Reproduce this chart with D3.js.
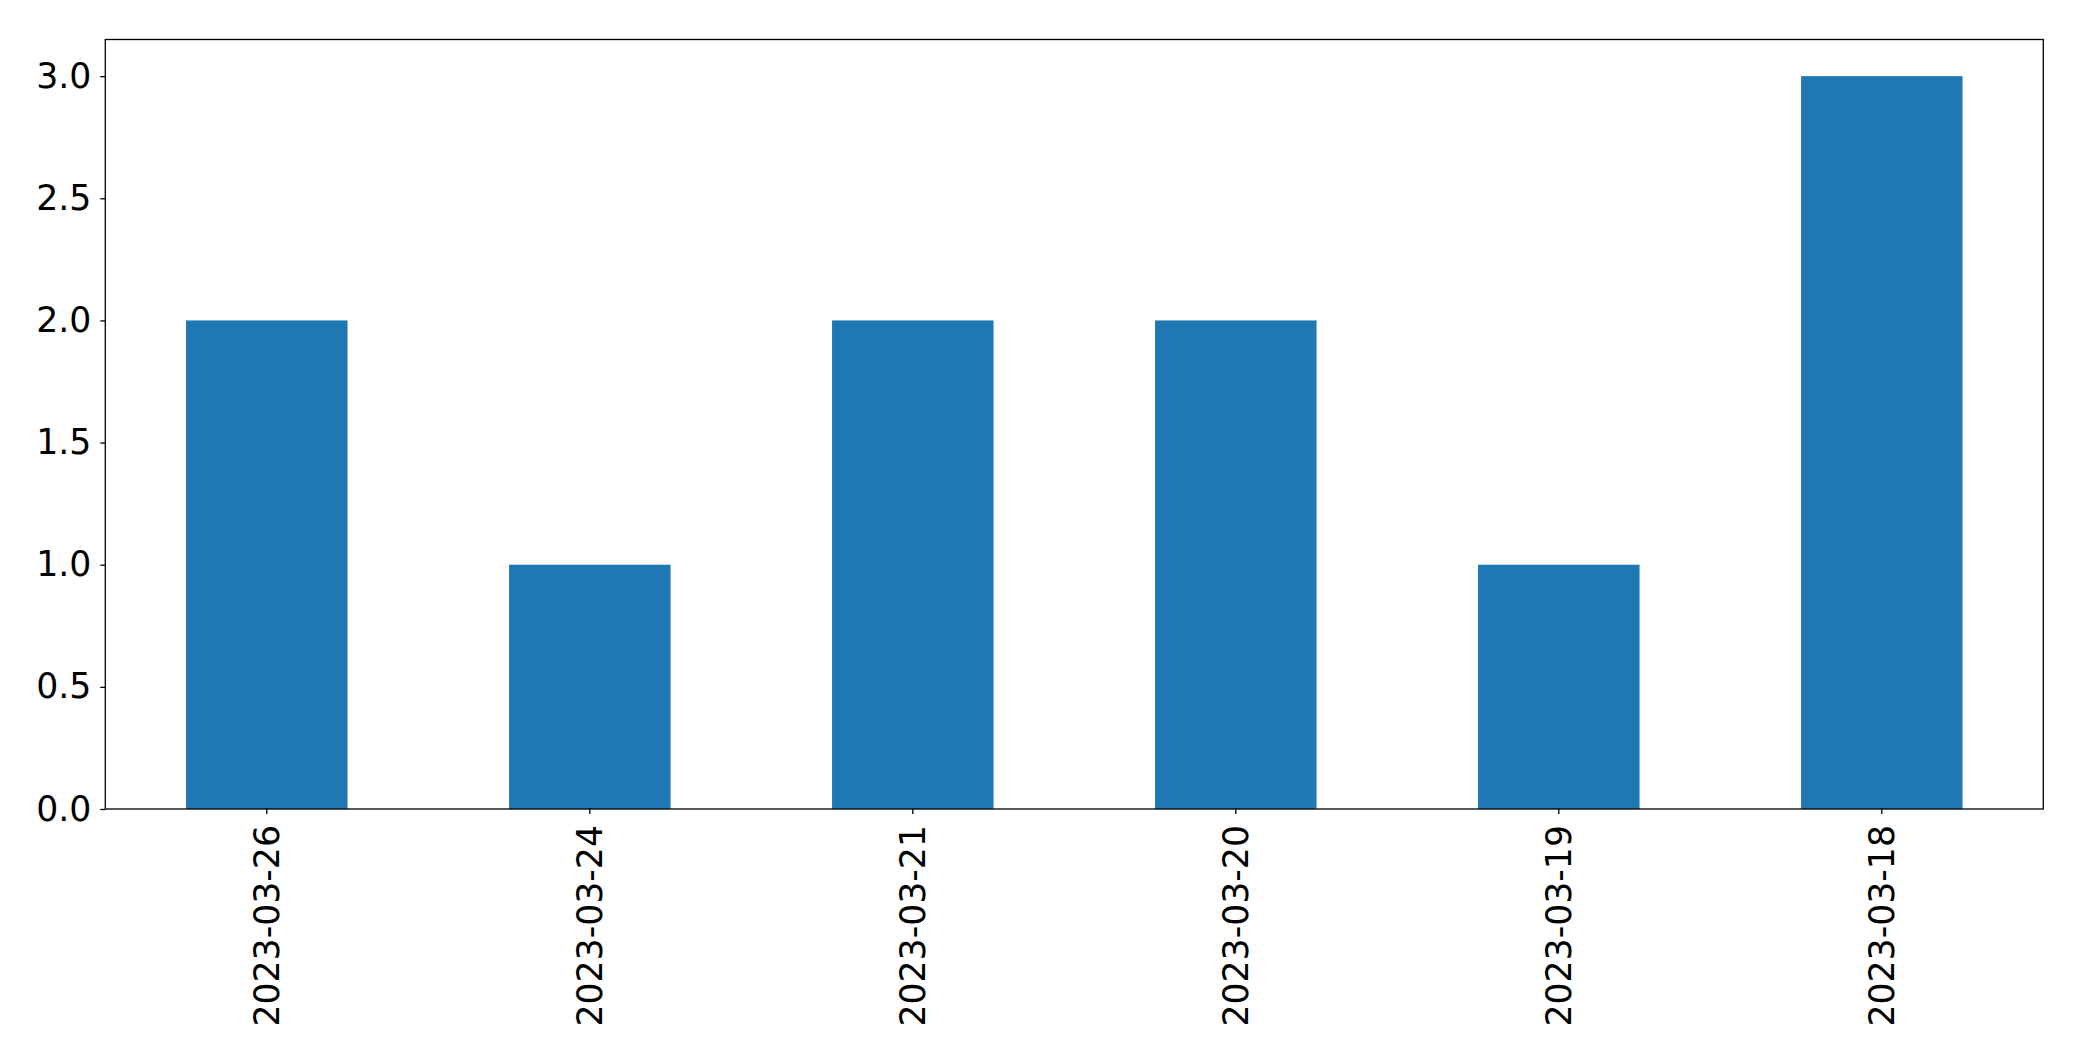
<!DOCTYPE html>
<html><head><meta charset="utf-8">
<script src="https://cdn.jsdelivr.net/npm/d3@7"></script>
<style>body{margin:0;background:#fff}svg{display:block}text{font-family:"DejaVu Sans",sans-serif;fill:#000}</style>
</head><body>
<script>
const categories = ["2023-03-26","2023-03-24","2023-03-21","2023-03-20","2023-03-19","2023-03-18"];
const values = [2, 1, 2, 2, 1, 3];
const yTicks = [0, 0.5, 1.0, 1.5, 2.0, 2.5, 3.0];

const W = 2082, H = 1061;
const L = 105.3, R = 2043.3, T = 39.5, B = 809;
const svg = d3.select("body").append("svg").attr("width", W).attr("height", H);

const x = d3.scaleBand().domain(categories).range([L, R]).paddingInner(0.5).paddingOuter(0.25);
const y = d3.scaleLinear().domain([0, 3.15]).range([B, T]);

svg.append("g").selectAll("rect").data(values).join("rect")
  .attr("x", (d,i) => x(categories[i]))
  .attr("width", x.bandwidth())
  .attr("y", d => y(d))
  .attr("height", d => B - y(d))
  .attr("fill", "#1f77b4");

const fs = 34.7;
const ya = svg.append("g").attr("transform", `translate(${L},0)`)
  .call(d3.axisLeft(y).tickValues(yTicks).tickFormat(d3.format(".1f")).tickSize(5).tickPadding(9));
ya.select(".domain").remove();
ya.selectAll("line").attr("stroke", "#000").attr("stroke-width", 1.3);
ya.selectAll("text").style("font-size", fs + "px").style("font-family", "DejaVu Sans");

const xa = svg.append("g").attr("transform", `translate(0,${B})`)
  .call(d3.axisBottom(x).tickSize(5).tickPadding(0));
xa.select(".domain").remove();
xa.selectAll("line").attr("stroke", "#000").attr("stroke-width", 1.3);
xa.selectAll("text")
  .style("font-size", fs + "px").style("font-family", "DejaVu Sans")
  .attr("transform", "translate(0,16) rotate(-90)")
  .attr("text-anchor", "end").attr("dy", "0.35em").attr("x", 0).attr("y", 0);

svg.append("rect").attr("x", L).attr("y", T).attr("width", R - L).attr("height", B - T)
  .attr("fill", "none").attr("stroke", "#000").attr("stroke-width", 1.3);
</script>
</body></html>
